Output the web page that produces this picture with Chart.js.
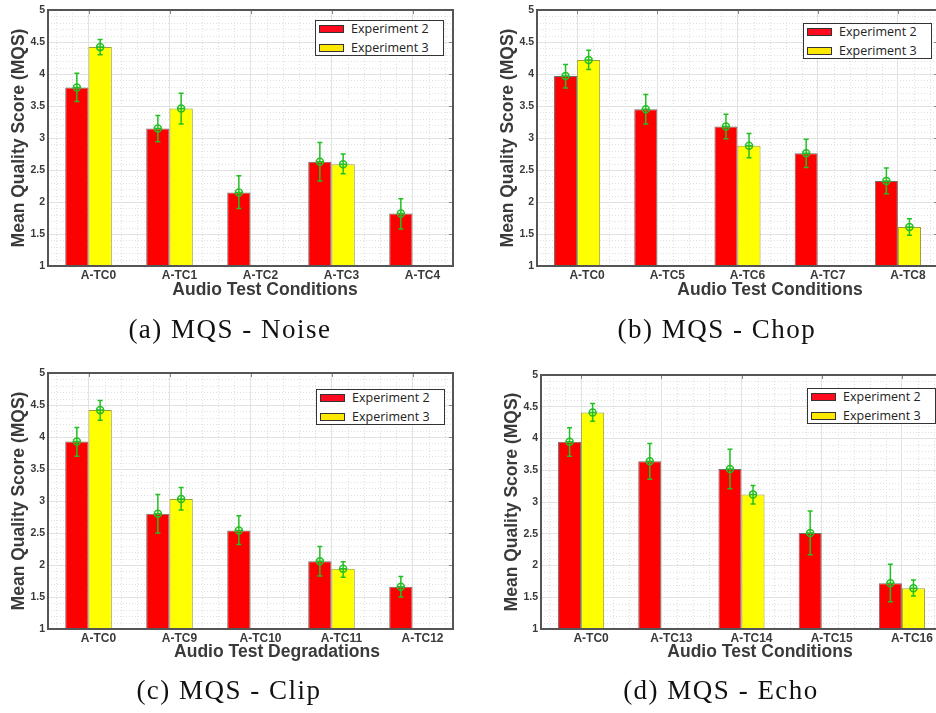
<!DOCTYPE html>
<html>
<head>
<meta charset="utf-8">
<script src="https://cdn.jsdelivr.net/npm/chart.js@4.4.0/dist/chart.umd.min.js"></script>
<style>
html, body { margin: 0; padding: 0; background: #fff; width: 936px; height: 713px; overflow: hidden; position: relative; }
canvas { position: absolute; }
.xtitle { position: absolute; font: bold 17.5px "Liberation Sans", Arial, sans-serif; color: #3a3a3a; white-space: nowrap; transform: translate(-50%, -50%); }
.caption { position: absolute; font: 27px "Liberation Serif", serif; letter-spacing: 1.5px; color: #111; white-space: nowrap; transform: translate(-50%, -50%); }
.legend { position: absolute; border: 1px solid #333; background: #fff; box-sizing: border-box; font: 12.5px "Open Sans", sans-serif; color: #222; }
.legend .sw { position: absolute; left: 3px; width: 25px; height: 8px; border: 1px solid #333; box-sizing: border-box; }
.legend .txt { position: absolute; left: 35px; line-height: 14px; white-space: nowrap; }
</style>
</head>
<body>
<script>
// series + axis texts
const seriesNames = ['Experiment 2', 'Experiment 3'];
const yTitle = 'Mean Quality Score (MQS)';
const yMin = 1, yMax = 5, yStep = 0.5;

// (a) Noise
const labelsA = ['A-TC0', 'A-TC1', 'A-TC2', 'A-TC3', 'A-TC4'];
const exp2A = [3.79, 3.15, 2.15, 2.63, 1.82];
const exp3A = [4.42, 3.46, null, 2.59, null];
const exp2LoA = [3.57, 2.94, 1.90, 2.33, 1.58];
const exp2HiA = [4.01, 3.35, 2.41, 2.93, 2.05];
const exp3LoA = [4.30, 3.22, null, 2.44, null];
const exp3HiA = [4.54, 3.70, null, 2.75, null];

// (b) Chop
const labelsB = ['A-TC0', 'A-TC5', 'A-TC6', 'A-TC7', 'A-TC8'];
const exp2B = [3.97, 3.45, 3.18, 2.76, 2.33];
const exp3B = [4.22, null, 2.88, null, 1.61];
const exp2LoB = [3.78, 3.22, 2.99, 2.54, 2.13];
const exp2HiB = [4.15, 3.68, 3.37, 2.98, 2.53];
const exp3LoB = [4.07, null, 2.69, null, 1.48];
const exp3HiB = [4.37, null, 3.07, null, 1.74];

// (c) Clip
const labelsC = ['A-TC0', 'A-TC9', 'A-TC10', 'A-TC11', 'A-TC12'];
const exp2C = [3.93, 2.80, 2.54, 2.06, 1.66];
const exp3C = [4.42, 3.03, null, 1.94, null];
const exp2LoC = [3.70, 2.50, 2.32, 1.83, 1.50];
const exp2HiC = [4.15, 3.10, 2.77, 2.29, 1.82];
const exp3LoC = [4.26, 2.86, null, 1.81, null];
const exp3HiC = [4.57, 3.21, null, 2.05, null];

// (d) Echo
const labelsD = ['A-TC0', 'A-TC13', 'A-TC14', 'A-TC15', 'A-TC16'];
const exp2D = [3.95, 3.64, 3.52, 2.51, 1.72];
const exp3D = [4.41, null, 3.12, null, 1.64];
const exp2LoD = [3.72, 3.36, 3.21, 2.17, 1.43];
const exp2HiD = [4.17, 3.92, 3.83, 2.86, 2.02];
const exp3LoD = [4.27, null, 2.97, null, 1.52];
const exp3HiD = [4.55, null, 3.26, null, 1.77];

const panels = [
    { labels: labelsA, exp2: exp2A, exp3: exp3A, lo: [exp2LoA, exp3LoA], hi: [exp2HiA, exp3HiA],
      xTitle: 'Audio Test Conditions', caption: '(a) MQS - Noise',
      box: { x: 0, y: 0, w: 468, h: 300 }, area: { left: 48, right: 453, top: 10, bottom: 266 },
      legend: { x: 315, y: 20 }, titleAt: [265, 288.5], captionAt: [230, 329] },
    { labels: labelsB, exp2: exp2B, exp3: exp3B, lo: [exp2LoB, exp3LoB], hi: [exp2HiB, exp3HiB],
      xTitle: 'Audio Test Conditions', caption: '(b) MQS - Chop',
      box: { x: 468, y: 0, w: 472, h: 300 }, area: { left: 537, right: 938, top: 10, bottom: 266 },
      legend: { x: 803, y: 23 }, titleAt: [770, 288.5], captionAt: [717, 329] },
    { labels: labelsC, exp2: exp2C, exp3: exp3C, lo: [exp2LoC, exp3LoC], hi: [exp2HiC, exp3HiC],
      xTitle: 'Audio Test Degradations', caption: '(c) MQS - Clip',
      box: { x: 0, y: 360, w: 468, h: 300 }, area: { left: 48, right: 453, top: 373, bottom: 629 },
      legend: { x: 316, y: 389 }, titleAt: [277, 651], captionAt: [229, 690] },
    { labels: labelsD, exp2: exp2D, exp3: exp3D, lo: [exp2LoD, exp3LoD], hi: [exp2HiD, exp3HiD],
      xTitle: 'Audio Test Conditions', caption: '(d) MQS - Echo',
      box: { x: 468, y: 360, w: 476, h: 300 }, area: { left: 541, right: 942, top: 375, bottom: 629 },
      legend: { x: 807, y: 388 }, titleAt: [760, 651], captionAt: [721, 690] }
];

const barColors = ['#ff0000', '#ffff00'];
const barBorders = ['#6e6e6e', '#9d9d30'];
const swatchColors = ['#ff0a1e', '#ffe800'];
const textColor = '#3a3a3a';
const errColor = '#22c022';

// dotted minor grid, every 0.1 on y and every 1/5 category on x
const minorGrid = {
    id: 'minorGrid',
    beforeDatasetsDraw(chart) {
        const { ctx, chartArea: a, scales: { x, y } } = chart;
        ctx.save();
        ctx.strokeStyle = '#e0e0e0';
        ctx.lineWidth = 1;
        ctx.setLineDash([1, 2]);
        ctx.beginPath();
        for (let k = 1; k < (yMax - yMin) * 10; k++) {
            if (k % 5 === 0) continue;
            const py = Math.round(y.getPixelForValue(yMin + k / 10)) + 0.5;
            ctx.moveTo(a.left, py); ctx.lineTo(a.right, py);
        }
        const step = x.getPixelForValue(1) - x.getPixelForValue(0);
        const n = chart.data.labels.length;
        for (let k = -2; k < n * 5 - 2; k++) {
            if (k % 5 === 0) continue;
            const px = Math.round(x.getPixelForValue(0) + step * k / 5) + 0.5;
            if (px <= a.left || px >= a.right) continue;
            ctx.moveTo(px, a.top); ctx.lineTo(px, a.bottom);
        }
        ctx.stroke();
        ctx.restore();
    }
};

const errorBars = {
    id: 'errorBars',
    afterDatasetsDraw(chart, args, opts) {
        const { ctx, scales: { y } } = chart;
        ctx.save();
        ctx.strokeStyle = errColor;
        ctx.lineWidth = 1.5;
        chart.data.datasets.forEach((ds, d) => {
            const meta = chart.getDatasetMeta(d);
            ds.data.forEach((v, i) => {
                if (v == null) return;
                const bx = meta.data[i].x;
                const yl = y.getPixelForValue(opts.lo[d][i]);
                const yh = y.getPixelForValue(opts.hi[d][i]);
                const yv = y.getPixelForValue(v);
                ctx.beginPath();
                ctx.moveTo(bx, yl); ctx.lineTo(bx, yh);
                ctx.moveTo(bx - 2.5, yl); ctx.lineTo(bx + 2.5, yl);
                ctx.moveTo(bx - 2.5, yh); ctx.lineTo(bx + 2.5, yh);
                ctx.stroke();
                ctx.beginPath();
                ctx.arc(bx, yv, 3.5, 0, Math.PI * 2);
                ctx.moveTo(bx - 3.5, yv); ctx.lineTo(bx + 3.5, yv);
                ctx.stroke();
            });
        });
        ctx.restore();
    }
};

// box around the plot + small inward ticks
const frame = {
    id: 'frame',
    afterDraw(chart) {
        const { ctx, chartArea: a, scales: { x, y } } = chart;
        ctx.save();
        ctx.strokeStyle = '#888';
        ctx.lineWidth = 1;
        ctx.beginPath();
        for (let v = yMin + yStep; v < yMax; v += yStep) {
            const py = Math.round(y.getPixelForValue(v)) + 0.5;
            ctx.moveTo(a.right - 4, py); ctx.lineTo(a.right, py);
        }
        chart.data.labels.forEach((l, i) => {
            const px = Math.round(x.getPixelForValue(i)) + 0.5;
            ctx.moveTo(px, a.top); ctx.lineTo(px, a.top + 4);
        });
        ctx.stroke();
        ctx.strokeStyle = '#555';
        ctx.lineWidth = 2;
        ctx.strokeRect(a.left, a.top, a.right - a.left, a.bottom - a.top);
        ctx.restore();
    }
};

function addDiv(cls, text, x, y) {
    const el = document.createElement('div');
    el.className = cls;
    el.textContent = text;
    el.style.left = x + 'px';
    el.style.top = y + 'px';
    document.body.appendChild(el);
    return el;
}

function makeLegend(p) {
    const box = document.createElement('div');
    box.className = 'legend';
    box.style.left = p.legend.x + 'px';
    box.style.top = p.legend.y + 'px';
    box.style.width = '129px';
    box.style.height = '36px';
    seriesNames.forEach((name, i) => {
        const sw = document.createElement('div');
        sw.className = 'sw';
        sw.style.top = (4 + i * 18.5) + 'px';
        sw.style.background = swatchColors[i];
        const t = document.createElement('div');
        t.className = 'txt';
        t.style.top = (1 + i * 18.5) + 'px';
        t.textContent = name;
        box.appendChild(sw);
        box.appendChild(t);
    });
    document.body.appendChild(box);
}

function makePanel(p) {
    const canvas = document.createElement('canvas');
    canvas.width = p.box.w;
    canvas.height = p.box.h;
    canvas.style.left = p.box.x + 'px';
    canvas.style.top = p.box.y + 'px';
    document.body.appendChild(canvas);

    const yW = 48;
    const xH = p.box.y + p.box.h - p.area.bottom;
    const pad = {
        left: p.area.left - p.box.x - yW,
        top: p.area.top - p.box.y,
        right: p.box.x + p.box.w - p.area.right,
        bottom: 0
    };

    new Chart(canvas, {
        type: 'bar',
        data: {
            labels: p.labels,
            datasets: [p.exp2, p.exp3].map((data, i) => ({
                label: seriesNames[i],
                data: data,
                backgroundColor: barColors[i],
                borderColor: barBorders[i],
                borderWidth: 1,
                categoryPercentage: 0.575,
                barPercentage: 1
            }))
        },
        options: {
            responsive: false,
            animation: false,
            devicePixelRatio: 1,
            layout: { padding: pad },
            plugins: {
                legend: { display: false },
                tooltip: { enabled: false },
                errorBars: { lo: p.lo, hi: p.hi }
            },
            scales: {
                x: {
                    grid: { offset: false, color: '#e2e2e2', drawTicks: false },
                    border: { display: false },
                    ticks: {
                        font: { family: '"Liberation Sans", Arial, sans-serif', size: 12, weight: 'bold' },
                        color: textColor,
                        padding: 2,
                        labelOffset: 10,
                        maxRotation: 0,
                        autoSkip: false
                    },
                    afterFit: s => { s.height = xH; }
                },
                y: {
                    min: yMin,
                    max: yMax,
                    grid: { color: '#e2e2e2', drawTicks: false },
                    border: { display: false },
                    ticks: {
                        stepSize: yStep,
                        font: { family: '"Liberation Sans", Arial, sans-serif', size: 10.5, weight: 'bold' },
                        color: textColor,
                        padding: 3,
                        callback: v => String(v)
                    },
                    title: {
                        display: true,
                        text: yTitle,
                        font: { family: '"Liberation Sans", Arial, sans-serif', size: 17.5, weight: 'bold' },
                        color: textColor,
                        padding: { top: 8.5, bottom: 0 }
                    },
                    afterFit: s => { s.width = yW; }
                }
            }
        },
        plugins: [minorGrid, errorBars, frame]
    });

    makeLegend(p);
    addDiv('xtitle', p.xTitle, p.titleAt[0], p.titleAt[1]);
    addDiv('caption', p.caption, p.captionAt[0], p.captionAt[1]);
}

panels.forEach(makePanel);
</script>
</body>
</html>
